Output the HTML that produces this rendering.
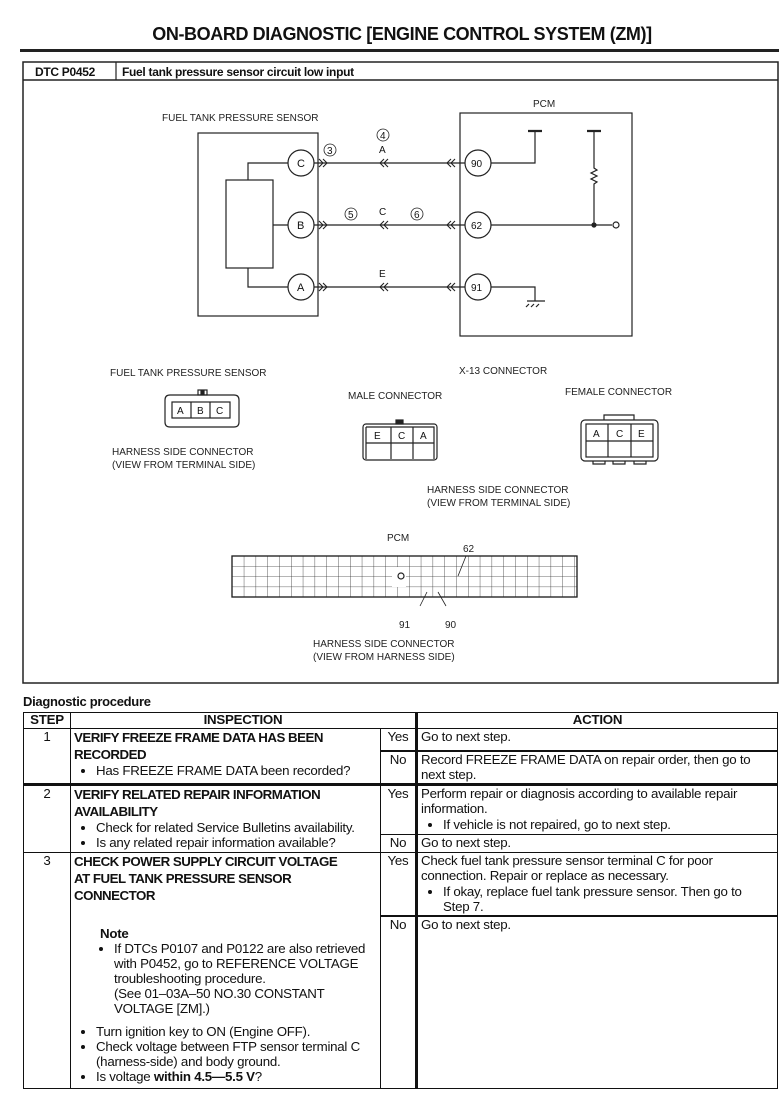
<!DOCTYPE html>
<html><head><meta charset="utf-8"><style>
body{margin:0;width:779px;height:1100px;background:#fff;position:relative;overflow:hidden;font-family:"Liberation Sans",Arial,sans-serif;color:#111}
svg{position:absolute;left:0;top:0}
table{position:absolute;left:23px;top:712px;width:755px;border-collapse:collapse;font-size:13.3px;line-height:15.5px;letter-spacing:-0.25px;table-layout:fixed;white-space:nowrap}
td{border:1.3px solid #111;vertical-align:top;padding:0 3px;overflow:hidden}
ul{margin:0;padding-left:22px}
li{margin:0}
.b{font-weight:bold}
.h{font-weight:bold;line-height:17px;letter-spacing:-0.5px}
.yn{text-align:center;padding:0}
.act{border-left:3px solid #111}
.n{line-height:15px}
</style></head><body>
<svg width="779" height="1100" viewBox="0 0 779 1100" font-family="Liberation Sans, Arial, sans-serif" fill="none" stroke="#222" stroke-width="1.2">
<text x="402" y="40" text-anchor="middle" font-size="18" font-weight="bold" fill="#111" stroke="none" letter-spacing="-0.4">ON-BOARD DIAGNOSTIC [ENGINE CONTROL SYSTEM (ZM)]</text>
<line x1="20" y1="50.5" x2="779" y2="50.5" stroke-width="3"/>
<rect x="23" y="62" width="755" height="621" stroke-width="1.5"/>
<line x1="23" y1="80" x2="778" y2="80" stroke-width="1.5"/>
<line x1="116" y1="62" x2="116" y2="80" stroke-width="1.2"/>
<g fill="#111" stroke="none" font-weight="bold" font-size="12" letter-spacing="-0.3">
<text x="35" y="76">DTC P0452</text><text x="122" y="76">Fuel tank pressure sensor circuit low input</text></g>
<g fill="#222" stroke="none" font-size="10">
<text x="162" y="121">FUEL TANK PRESSURE SENSOR</text>
<text x="533" y="107">PCM</text>
<text x="110" y="376">FUEL TANK PRESSURE SENSOR</text>
<text x="459" y="374">X-13 CONNECTOR</text>
<text x="348" y="399">MALE CONNECTOR</text>
<text x="565" y="395">FEMALE CONNECTOR</text>
<text x="112" y="455">HARNESS SIDE CONNECTOR</text>
<text x="112" y="468">(VIEW FROM TERMINAL SIDE)</text>
<text x="427" y="493">HARNESS SIDE CONNECTOR</text>
<text x="427" y="506">(VIEW FROM TERMINAL SIDE)</text>
<text x="387" y="541">PCM</text>
<text x="463" y="552">62</text>
<text x="399" y="628">91</text>
<text x="445" y="628">90</text>
<text x="313" y="647">HARNESS SIDE CONNECTOR</text>
<text x="313" y="660">(VIEW FROM HARNESS SIDE)</text>
</g>
<rect x="198" y="133" width="120" height="183"/>
<rect x="226" y="180" width="47" height="88"/>
<path d="M248 180V163H288M273 225H288M248 268V287H288"/>
<circle cx="301" cy="163" r="13" fill="#fff"/><circle cx="301" cy="225" r="13" fill="#fff"/><circle cx="301" cy="287" r="13" fill="#fff"/>
<g font-size="11" fill="#111" stroke="none">
<text x="297" y="167">C</text><text x="297" y="229">B</text><text x="297" y="291">A</text>
</g>
<path d="M314 163H465M314 225H465M314 287H465"/>
<g stroke-width="1.1">
<path d="M319 159l4 4-4 4M323 159l4 4-4 4M319 221l4 4-4 4M323 221l4 4-4 4M319 283l4 4-4 4M323 283l4 4-4 4"/>
<path d="M384 159l-4 4 4 4M388 159l-4 4 4 4M384 221l-4 4 4 4M388 221l-4 4 4 4M384 283l-4 4 4 4M388 283l-4 4 4 4"/>
<path d="M451 159l-4 4 4 4M455 159l-4 4 4 4M451 221l-4 4 4 4M455 221l-4 4 4 4M451 283l-4 4 4 4M455 283l-4 4 4 4"/>
</g>
<g stroke-width="0.8" fill="#fff">
<circle cx="330" cy="150" r="6"/><circle cx="383" cy="135" r="6"/><circle cx="351" cy="214" r="6"/><circle cx="417" cy="214" r="6"/>
</g>
<g font-size="10" fill="#111" stroke="none">
<text x="327" y="154">3</text><text x="380" y="139">4</text><text x="379" y="153">A</text>
<text x="348" y="218">5</text><text x="379" y="215">C</text><text x="414" y="218">6</text><text x="379" y="277">E</text>
</g>
<rect x="460" y="113" width="172" height="223"/>
<circle cx="478" cy="163" r="13" fill="#fff"/><circle cx="478" cy="225" r="13" fill="#fff"/><circle cx="478" cy="287" r="13" fill="#fff"/>
<g font-size="10" fill="#111" stroke="none">
<text x="471" y="167">90</text><text x="471" y="229">62</text><text x="471" y="291">91</text>
</g>
<path d="M491 163H535V131M491 225H612M594 131V168l3 2-6 3 6 3-6 3 6 3-3 2V225M491 287H535V301M527 301H545M529 304l-3 3M534 304l-3 3M539 304l-3 3"/>
<circle cx="594" cy="225" r="2" fill="#222"/><circle cx="616" cy="225" r="3" fill="#fff"/>
<path d="M528 131h14M587 131h14" stroke-width="2.2"/>
<path d="M170 395h64q5 0 5 5v22q0 5-5 5h-64q-5 0-5-5v-22q0-5 5-5z"/>
<rect x="172" y="402" width="58" height="16"/>
<path d="M191 402v16M210 402v16"/>
<rect x="198" y="390" width="9" height="5"/><rect x="201" y="391" width="3" height="3" fill="#222"/>
<g font-size="10" fill="#111" stroke="none"><text x="177" y="414">A</text><text x="197" y="414">B</text><text x="216" y="414">C</text></g>
<rect x="363" y="424" width="74" height="36" rx="3"/>
<path d="M366 427h68v32M366 443h68M391 427v32M413 427v32M366 427v32"/>
<rect x="396" y="420" width="7" height="4" fill="#222"/>
<g font-size="10" fill="#111" stroke="none"><text x="374" y="439">E</text><text x="398" y="439">C</text><text x="420" y="439">A</text></g>
<rect x="581" y="420" width="77" height="41" rx="4"/>
<path d="M604 420v-5h30v5"/>
<rect x="586" y="424" width="67" height="33"/>
<path d="M586 441h67M608 424v33M631 424v33"/>
<path d="M593 461v3h12v-3M613 461v3h12v-3M634 461v3h12v-3"/>
<g font-size="10" fill="#111" stroke="none"><text x="593" y="437">A</text><text x="616" y="437">C</text><text x="638" y="437">E</text></g>
<defs><pattern id="g" x="232" y="556" width="11.8" height="10.2" patternUnits="userSpaceOnUse"><path d="M0 0H11.8M0 0V10.2" stroke="#333" stroke-width="0.8"/></pattern></defs>
<rect x="232" y="556" width="345" height="41" fill="url(#g)"/>
<rect x="232" y="556" width="345" height="41"/>
<rect x="392" y="567" width="14" height="20" fill="#fff" stroke="none"/>
<circle cx="401" cy="576" r="3"/>
<path d="M466 556l-8 20M427 592l-7 14M438 592l8 14" stroke-width="0.8"/>
<text x="23" y="706" font-size="13" font-weight="bold" fill="#111" stroke="none" letter-spacing="-0.3">Diagnostic procedure</text>
</svg>
<table>
<colgroup><col style="width:47px"><col style="width:310px"><col style="width:36px"><col></colgroup>
<tr style="height:16px"><td class="b" style="text-align:center;padding:0;line-height:14px">STEP</td><td class="b" colspan="2" style="text-align:center;line-height:14px">INSPECTION</td><td class="b act" style="text-align:center;line-height:14px">ACTION</td></tr>
<tr style="height:22px"><td rowspan="2" style="text-align:center">1</td><td rowspan="2"><div class="h">VERIFY FREEZE FRAME DATA HAS BEEN<br>RECORDED</div><ul><li>Has FREEZE FRAME DATA been recorded?</li></ul></td><td class="yn">Yes</td><td class="act">Go to next step.</td></tr>
<tr style="height:33px"><td class="yn" style="border-top:2.5px solid #111">No</td><td class="act" style="border-top:2.5px solid #111">Record FREEZE FRAME DATA on repair order, then go to<br>next step.</td></tr>
<tr style="height:50px"><td rowspan="2" style="text-align:center;border-top:3px solid #111">2</td><td rowspan="2" style="border-top:3px solid #111"><div class="h">VERIFY RELATED REPAIR INFORMATION<br>AVAILABILITY</div><ul><li>Check for related Service Bulletins availability.</li><li>Is any related repair information available?</li></ul></td><td class="yn" style="border-top:3px solid #111">Yes</td><td class="act" style="border-top:3px solid #111">Perform repair or diagnosis according to available repair<br>information.<ul><li>If vehicle is not repaired, go to next step.</li></ul></td></tr>
<tr style="height:18px"><td class="yn">No</td><td class="act">Go to next step.</td></tr>
<tr style="height:64px"><td rowspan="2" style="text-align:center">3</td><td rowspan="2"><div class="h">CHECK POWER SUPPLY CIRCUIT VOLTAGE<br>AT FUEL TANK PRESSURE SENSOR<br>CONNECTOR</div><div style="height:22px"></div><div class="b" style="padding-left:26px">Note</div><ul class="n" style="padding-left:40px;margin-bottom:8px"><li>If DTCs P0107 and P0122 are also retrieved<br>with P0452, go to REFERENCE VOLTAGE<br>troubleshooting procedure.<br>(See 01–03A–50 NO.30 CONSTANT<br>VOLTAGE [ZM].)</li></ul><ul class="n"><li>Turn ignition key to ON (Engine OFF).</li><li>Check voltage between FTP sensor terminal C<br>(harness-side) and body ground.</li><li>Is voltage <b>within 4.5—5.5 V</b>?</li></ul></td><td class="yn">Yes</td><td class="act">Check fuel tank pressure sensor terminal C for poor<br>connection. Repair or replace as necessary.<ul><li>If okay, replace fuel tank pressure sensor. Then go to<br>Step 7.</li></ul></td></tr>
<tr style="height:172px"><td class="yn" style="border-top:2.5px solid #111">No</td><td class="act" style="border-top:2.5px solid #111">Go to next step.</td></tr>
</table>
</body></html>
